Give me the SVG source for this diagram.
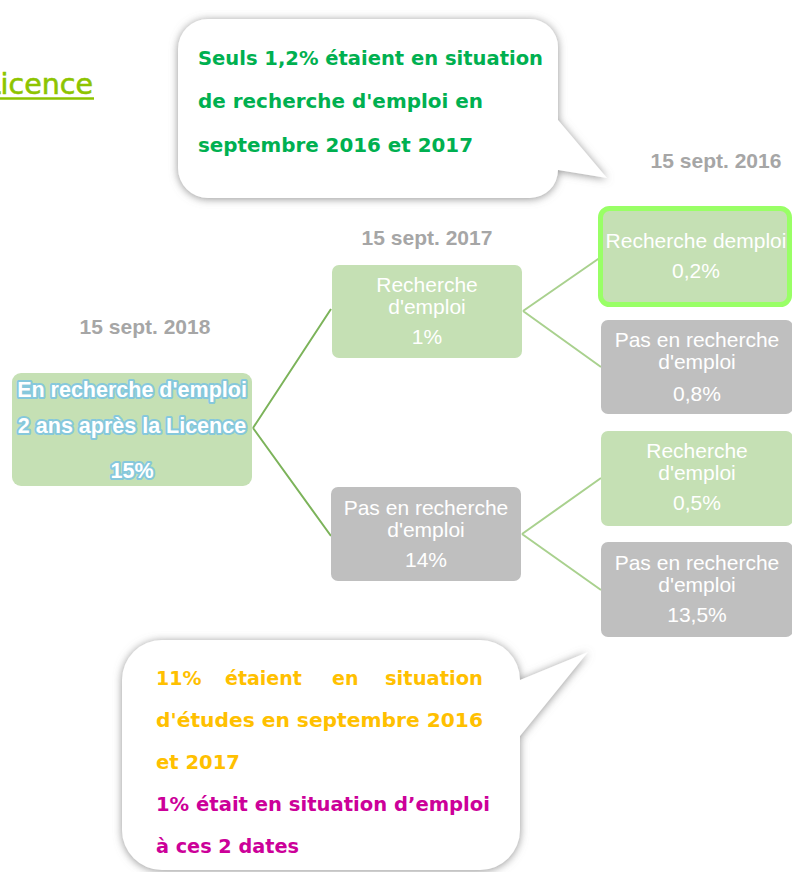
<svg xmlns="http://www.w3.org/2000/svg" width="792" height="872" viewBox="0 0 792 872">
<defs>
<filter id="sh" x="-10%" y="-10%" width="120%" height="120%">
<feDropShadow dx="0" dy="1" stdDeviation="4" flood-color="#808080" flood-opacity="0.85"/>
</filter>
<style>
.date{font-family:"Liberation Sans",Arial,sans-serif;font-weight:bold;font-size:21px;fill:#A6A6A6;text-anchor:middle}
.nt{font-family:"Liberation Sans",Arial,sans-serif;font-size:21px;fill:#FFFFFF;text-anchor:middle}
.root{font-family:"Liberation Sans",Arial,sans-serif;font-weight:bold;font-size:21.5px;fill:#FFFFFF;text-anchor:middle;stroke:#86C8DC;stroke-width:4;stroke-linejoin:round;paint-order:stroke}
.green{fill:#C5E0B4}
.gray{fill:#BFBFBF}
.call{fill:#FFFFFF;filter:url(#sh)}
.ct{font-family:"DejaVu Sans",Verdana,sans-serif;font-weight:bold;font-size:19px}
.c1{stroke:#7CB35A;stroke-width:2;fill:none}
.c2{stroke:#A9D18E;stroke-width:2;fill:none}
</style>
</defs>
<rect width="792" height="872" fill="#FFFFFF"/>

<g id="title">
<text x="93" y="94" text-anchor="end" font-family="'DejaVu Sans',Verdana,sans-serif" font-size="28.5" fill="#8DC400" stroke="#8DC400" stroke-width="0.6">Licence</text>
<line x1="-10" y1="98.5" x2="94" y2="98.5" stroke="#8DC400" stroke-width="2.5"/>
</g>

<g id="callout-top">
<path class="call" d="M208 19 H530 A28 28 0 0 1 558 47 V120 L607 178 L558 170 A28 28 0 0 1 530 198 H208 A30 30 0 0 1 178 168 V49 A30 30 0 0 1 208 19 Z"/>
<text class="ct" fill="#00B050"><tspan x="198" y="65" textLength="345" lengthAdjust="spacingAndGlyphs">Seuls 1,2% étaient en situation</tspan><tspan x="198" y="108" textLength="285" lengthAdjust="spacingAndGlyphs">de recherche d'emploi en</tspan><tspan x="198" y="152" textLength="275" lengthAdjust="spacingAndGlyphs">septembre 2016 et 2017</tspan></text>
</g>

<g id="dates">
<text class="date" x="716" y="168">15 sept. 2016</text>
<text class="date" x="427" y="245">15 sept. 2017</text>
<text class="date" x="145" y="334">15 sept. 2018</text>
</g>

<g id="connectors">
<path class="c1" d="M253 428 L331 309 M253 428 L331 536"/>
<path class="c2" d="M523 311 L601 257 M523 311 L601 367"/>
<path class="c2" d="M522 534 L601 478 M522 534 L601 590"/>
</g>

<g id="root">
<rect class="green" x="12" y="373" width="240" height="113" rx="9"/>
<text class="root"><tspan x="132" y="397">En recherche d'emploi</tspan><tspan x="132" y="433">2 ans après la Licence</tspan><tspan x="132" y="478">15%</tspan></text>
</g>

<g id="n2017-recherche">
<rect class="green" x="332" y="265" width="190" height="93" rx="7"/>
<text class="nt"><tspan x="427" y="292">Recherche</tspan><tspan x="427" y="314">d'emploi</tspan><tspan x="427" y="344">1%</tspan></text>
</g>

<g id="n2017-pas">
<rect class="gray" x="331" y="487" width="190" height="94" rx="7"/>
<text class="nt"><tspan x="426" y="515">Pas en recherche</tspan><tspan x="426" y="537">d'emploi</tspan><tspan x="426" y="567">14%</tspan></text>
</g>

<g id="n2016-a">
<rect class="green" x="600.5" y="208.5" width="189" height="96" rx="9" stroke="#99FF66" stroke-width="5"/>
<text class="nt"><tspan x="696" y="248">Recherche demploi</tspan><tspan x="696" y="278">0,2%</tspan></text>
</g>

<g id="n2016-b">
<rect class="gray" x="601" y="320" width="192" height="94" rx="7"/>
<text class="nt"><tspan x="697" y="347">Pas en recherche</tspan><tspan x="697" y="369">d'emploi</tspan><tspan x="697" y="401">0,8%</tspan></text>
</g>

<g id="n2016-c">
<rect class="green" x="601" y="431" width="192" height="95" rx="7"/>
<text class="nt"><tspan x="697" y="458">Recherche</tspan><tspan x="697" y="480">d'emploi</tspan><tspan x="697" y="510">0,5%</tspan></text>
</g>

<g id="n2016-d">
<rect class="gray" x="601" y="542" width="192" height="95" rx="7"/>
<text class="nt"><tspan x="697" y="570">Pas en recherche</tspan><tspan x="697" y="592">d'emploi</tspan><tspan x="697" y="622">13,5%</tspan></text>
</g>

<g id="callout-bottom">
<path class="call" d="M162 640 H480 A40 40 0 0 1 520 680 L588 652 L520 736 V830 A40 40 0 0 1 480 870 H162 A40 40 0 0 1 122 830 V680 A40 40 0 0 1 162 640 Z"/>
<text class="ct" fill="#FFC000"><tspan x="156" y="685">11%</tspan><tspan x="225" y="685">étaient</tspan><tspan x="332" y="685">en</tspan><tspan x="385" y="685" textLength="98" lengthAdjust="spacingAndGlyphs">situation</tspan><tspan x="156" y="727" textLength="327" lengthAdjust="spacingAndGlyphs">d'études en septembre 2016</tspan><tspan x="156" y="769" textLength="84" lengthAdjust="spacingAndGlyphs">et 2017</tspan></text>
<text class="ct" fill="#CC0099"><tspan x="156" y="811" textLength="334" lengthAdjust="spacingAndGlyphs">1% était en situation d’emploi</tspan><tspan x="156" y="853" textLength="143" lengthAdjust="spacingAndGlyphs">à ces 2 dates</tspan></text>
</g>
</svg>
